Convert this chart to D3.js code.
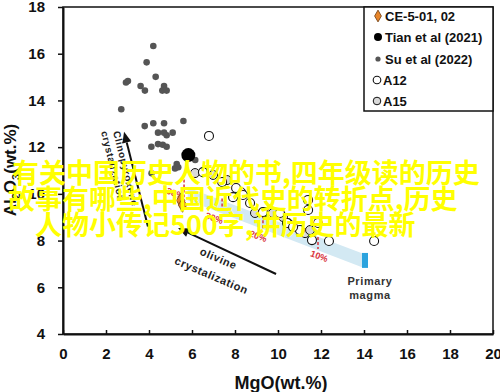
<!DOCTYPE html>
<html><head><meta charset="utf-8">
<script src="https://cdn.jsdelivr.net/npm/d3@7"></script>
<style>body{margin:0;background:#fff}svg{display:block}</style>
</head><body><svg id="c" width="500" height="392"></svg>
<script>
// ---------- data ----------
const xTicks = [0,2,4,6,8,10,12,14,16,18,20];
const yTicks = [4,6,8,10,12,14,16,18];
const suX = [4.20,3.89,4.31,2.93,3.02,3.61,3.81,4.70,4.62,4.82,2.71,5.60,3.80,4.20,4.70,4.42,4.70,4.82,5.10,4.42,4.64,4.82,4.11,5.29,5.36,5.21,4.12,6.15];
const suY = [16.33,15.63,15.01,14.77,14.83,14.62,14.42,14.62,14.42,14.42,13.62,13.12,12.90,13.02,13.02,12.62,12.62,12.51,12.62,12.13,12.10,12.02,12.02,11.28,11.14,11.09,10.88,11.45];
const tianX = [5.83];
const tianY = [11.66];
const ceX = [5.47,5.56];
const ceY = [9.72,9.52];
const a12X = [6.79,6.51,7.40,8.05,7.91,8.37,8.70,9.30,10.09,10.42,11.02,11.40,11.40,11.86,11.58,12.37,14.47,10.70];
const a12Y = [12.48,10.93,10.51,10.25,9.86,9.95,9.61,9.22,9.18,8.75,8.45,9.74,9.31,8.75,8.02,7.98,7.98,8.58];
const a15X = [6.14,6.98,8.93,9.40,9.77,10.23,10.47,11.26,11.49,8.28,7.63];
const a15Y = [10.89,10.81,9.18,9.22,9.18,9.01,8.75,8.32,8.45,10.08,10.59];
const bandX = [5.8,14.0,14.0,5.8];
const bandY = [10.27,7.42,6.83,9.73];
const meltPct = ["38%","30%","20%","10%"];
const meltX = [5.63,7.40,9.30,11.86];
const meltTop = [10.62,9.80,9.08,8.15];
const meltBot = [9.86,9.27,8.50,7.64];
const legendLabels = ["CE-5-01, 02","Tian et al (2021)","Su et al (2022)","A12","A15"];
const watermark = ["有关中国历史人物的书,四年级读的历史","故事有哪些,中国近代史的转折点,历史","人物小传记500字,讲历史的最新"];

// ---------- chart ----------
const svg = d3.select("#c");
const L=63,R=493,T=7,B=334;
const x = d3.scaleLinear().domain([0,20]).range([L,R]);
const y = d3.scaleLinear().domain([4,18]).range([B,T]);
const FONT = "'Liberation Sans', Arial, sans-serif";

// band
svg.append("path")
  .attr("d", d3.line()(bandX.map((d,i)=>[x(d),y(bandY[i])])) + "Z")
  .attr("fill","#d3e9f3").attr("stroke","none");
// primary magma rect
svg.append("rect").attr("x",x(14)-2).attr("y",y(7.47)).attr("width",6)
  .attr("height",y(6.83)-y(7.47)).attr("fill","#2ba3de");

// red dashed lines + labels
meltX.forEach((mx,i)=>{
  svg.append("line").attr("x1",x(mx)).attr("x2",x(mx)).attr("y1",y(meltTop[i])).attr("y2",y(meltBot[i]))
    .attr("stroke","#d8333b").attr("stroke-width",1.5).attr("stroke-dasharray","3,2");
  const lx = x(mx)-(i===0?9:(i===3?-1:(i===1?8:5))), ly = y(meltBot[i])+ (i===0?-3:8);
  svg.append("text").attr("x",lx).attr("y",ly)
    .attr("transform",`rotate(20,${lx},${ly})`)
    .attr("text-anchor","middle").attr("dominant-baseline","middle")
    .attr("font-family",FONT).attr("font-size",9).attr("font-weight","bold")
    .attr("fill","#d8333b").text(meltPct[i]);
});

// arrows
function arrow(x1,y1,x2,y2){
  const X1=x(x1),Y1=y(y1),X2=x(x2),Y2=y(y2);
  const a=Math.atan2(Y2-Y1,X2-X1), len=11, w=4.5;
  const bx=X2-len*Math.cos(a), by=Y2-len*Math.sin(a);
  svg.append("line").attr("x1",X1).attr("y1",Y1).attr("x2",bx).attr("y2",by)
    .attr("stroke","#111").attr("stroke-width",2);
  svg.append("path").attr("d",`M${X2},${Y2}L${bx+w*Math.sin(a)},${by-w*Math.cos(a)}L${bx-w*Math.sin(a)},${by+w*Math.cos(a)}Z`)
    .attr("fill","#111");
}
arrow(3.95,8.6,2.84,12.66);
arrow(9.91,6.57,5.35,8.54);

// annotation texts
function label(t,px,py,rot,size,anchor){
  svg.append("text").attr("x",px).attr("y",py).attr("transform",`rotate(${rot},${px},${py})`)
    .attr("text-anchor",anchor||"middle").attr("font-family",FONT).attr("font-size",size)
    .attr("font-weight","bold").attr("fill","#222").attr("letter-spacing",0.6).text(t);
}
label("Clinopyroxene",113,132,76,10,"start");
label("crystalization",101,132,76,10,"start");
label("olivine",217,262,23,11);
label("crystalization",210,279,23,11);
svg.append("text").attr("x",370).attr("y",285).attr("text-anchor","middle")
  .attr("font-family",FONT).attr("font-size",11).attr("font-weight","bold").attr("fill","#333").attr("letter-spacing",0.6).text("Primary");
svg.append("text").attr("x",370).attr("y",299).attr("text-anchor","middle")
  .attr("font-family",FONT).attr("font-size",11).attr("font-weight","bold").attr("fill","#333").attr("letter-spacing",0.6).text("magma");

// points
const g = svg.append("g");
g.selectAll(".su").data(suX).join("circle").attr("cx",d=>x(d)).attr("cy",(d,i)=>y(suY[i]))
  .attr("r",3.3).attr("fill","#555");
g.selectAll(".a15").data(a15X).join("circle").attr("cx",d=>x(d)).attr("cy",(d,i)=>y(a15Y[i]))
  .attr("r",4.5).attr("fill","#d9d9d9").attr("stroke","#111").attr("stroke-width",1);
g.selectAll(".a12").data(a12X).join("circle").attr("cx",d=>x(d)).attr("cy",(d,i)=>y(a12Y[i]))
  .attr("r",4.5).attr("fill","#fff").attr("stroke","#111").attr("stroke-width",1.1);
g.selectAll(".tian").data(tianX).join("circle").attr("cx",d=>x(d)).attr("cy",(d,i)=>y(tianY[i]))
  .attr("r",7).attr("fill","#000");
const dia = d3.symbol().type(d3.symbolDiamond).size(60);
g.selectAll(".ce").data(ceX).join("path").attr("d",dia)
  .attr("transform",(d,i)=>`translate(${x(d)},${y(ceY[i])})`)
  .attr("fill","#e8862a").attr("stroke","#6b3a10").attr("stroke-width",0.8);

// axes
const xa = svg.append("g").attr("transform",`translate(0,${B})`)
  .call(d3.axisBottom(x).tickValues(xTicks).tickSizeInner(-4).tickSizeOuter(0).tickPadding(14));
const ya = svg.append("g").attr("transform",`translate(${L},0)`)
  .call(d3.axisLeft(y).tickValues(yTicks).tickSizeInner(5).tickSizeOuter(0).tickPadding(13));
[xa,ya].forEach(a=>{
  a.selectAll("text").attr("font-family",FONT).attr("font-size",15).attr("font-weight","bold").attr("fill","#111");
  a.selectAll("line").attr("stroke","#111").attr("stroke-width",1.5);
  a.select(".domain").attr("stroke","#111").attr("stroke-width",2);
});
svg.append("rect").attr("x",L).attr("y",T).attr("width",R-L).attr("height",B-T)
  .attr("fill","none").attr("stroke","#111").attr("stroke-width",1.5);

// axis titles
svg.append("text").attr("x",281).attr("y",389).attr("text-anchor","middle")
  .attr("font-family",FONT).attr("font-size",18).attr("font-weight","bold").attr("fill","#111")
  .text("MgO(wt.%)");
const yt = svg.append("text").attr("transform","translate(16,170) rotate(-90)").attr("text-anchor","middle")
  .attr("font-family",FONT).attr("font-size",17).attr("font-weight","bold").attr("fill","#111");
yt.append("tspan").text("Al");
yt.append("tspan").attr("font-size",11).attr("dy",4).text("2");
yt.append("tspan").attr("dy",-4).text("O");
yt.append("tspan").attr("font-size",11).attr("dy",4).text("3");
yt.append("tspan").attr("dy",-4).text("(wt.%)");

// legend
svg.append("rect").attr("x",364).attr("y",7).attr("width",129).attr("height",104)
  .attr("fill","#fff").attr("stroke","#111").attr("stroke-width",1.5);
const ly = [16,37,59,80,101];
legendLabels.forEach((t,i)=>{
  const mx = 378;
  if(i===0) svg.append("path").attr("d",d3.symbol().type(d3.symbolDiamond).size(40))
      .attr("transform",`translate(${mx},${ly[i]})`).attr("fill","#e8862a").attr("stroke","#6b3a10").attr("stroke-width",0.8);
  if(i===1) svg.append("circle").attr("cx",mx).attr("cy",ly[i]).attr("r",4).attr("fill","#000");
  if(i===2) svg.append("circle").attr("cx",mx).attr("cy",ly[i]).attr("r",2.6).attr("fill","#555");
  if(i===3) svg.append("circle").attr("cx",mx-1).attr("cy",ly[i]).attr("r",3.8).attr("fill","#fff").attr("stroke","#111").attr("stroke-width",1.1);
  if(i===4) svg.append("circle").attr("cx",mx-1).attr("cy",ly[i]).attr("r",3.8).attr("fill","#d9d9d9").attr("stroke","#111").attr("stroke-width",1);
  svg.append("text").attr("x",i>=3?383:385).attr("y",ly[i]).attr("dy","0.35em")
    .attr("font-family",FONT).attr("font-size",13).attr("font-weight","bold").attr("fill","#111").text(t);
});

// watermark overlay
const wmX = [12,8,35], wmY = [183,209,235];
watermark.forEach((t,i)=>{
  svg.append("text").attr("x",wmX[i]).attr("y",wmY[i])
    .attr("font-family","'Noto Sans CJK SC', sans-serif").attr("font-size",27).attr("font-weight","bold")
    .attr("fill","#ffff00").text(t);
});
</script></body></html>
